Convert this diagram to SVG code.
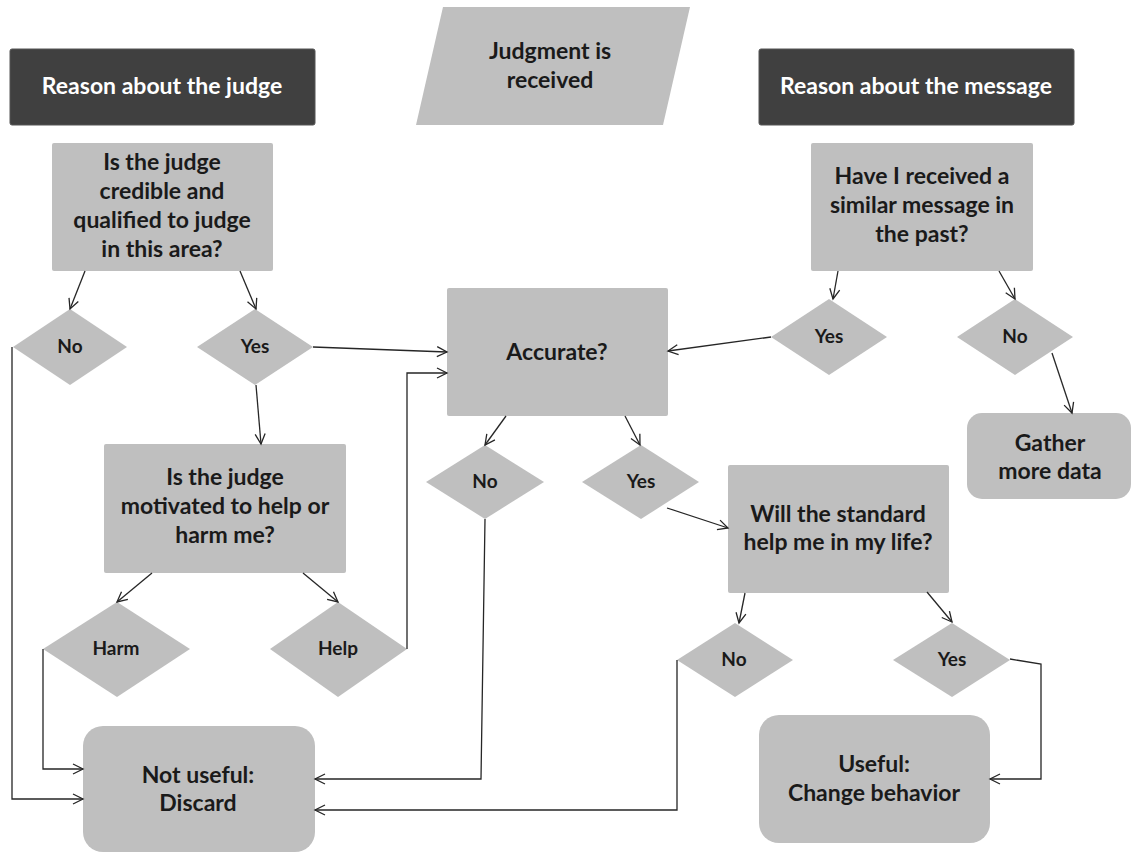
<svg xmlns="http://www.w3.org/2000/svg" width="1131" height="853" viewBox="0 0 1131 853">
<defs>
<style>
.hdr{fill:#404040;stroke:#555;stroke-width:1}
.box{fill:#bfbfbf}
.ht{font-family:Lato,"Open Sans","Liberation Sans",sans-serif;font-weight:bold;font-size:23px;fill:#fff;text-anchor:middle}
.t{font-family:Lato,"Open Sans","Liberation Sans",sans-serif;font-weight:bold;font-size:23px;fill:#1a1a1a;text-anchor:middle}
.s{font-family:Lato,"Open Sans","Liberation Sans",sans-serif;font-weight:bold;font-size:19px;fill:#1a1a1a;text-anchor:middle}
.c{fill:none;stroke:#262626;stroke-width:1.3;marker-end:url(#arr)}
</style>
<marker id="arr" markerUnits="userSpaceOnUse" markerWidth="14" markerHeight="14" refX="11" refY="6" orient="auto" viewBox="0 0 14 12">
<path d="M1,1 L11,6 L1,11" fill="none" stroke="#262626" stroke-width="1.3"/>
</marker>
</defs>
<rect width="1131" height="853" fill="#fff"/>

<g id="hdr-judge"><rect class="hdr" x="10" y="49" width="305" height="76" rx="2"/><text class="ht" x="162" y="94">Reason about the judge</text></g>
<g id="received"><polygon class="box" points="443,7 690,7 663,125 416,125"/><text class="t" x="550" y="59">Judgment is</text><text class="t" x="550" y="88">received</text></g>
<g id="hdr-message"><rect class="hdr" x="759" y="49" width="315" height="76" rx="2"/><text class="ht" x="916" y="94">Reason about the message</text></g>

<g id="q-credible"><rect class="box" x="52" y="143" width="221" height="128" rx="2"/>
<text class="t" x="162" y="170">Is the judge</text><text class="t" x="162" y="199">credible and</text><text class="t" x="162" y="228">qualified to judge</text><text class="t" x="162" y="257">in this area?</text></g>

<g id="q-similar"><rect class="box" x="811" y="143" width="222" height="128" rx="2"/>
<text class="t" x="922" y="184">Have I received a</text><text class="t" x="922" y="213">similar message in</text><text class="t" x="922" y="242">the past?</text></g>

<g id="d-no1"><polygon class="box" points="13,347 70,309 127,347 70,385"/><text class="s" x="70" y="353">No</text></g>
<g id="d-yes1"><polygon class="box" points="197,347 255,309 313,347 255,385"/><text class="s" x="255" y="353">Yes</text></g>
<g id="d-yes2"><polygon class="box" points="771,337 829,299 887,337 829,375"/><text class="s" x="829" y="343">Yes</text></g>
<g id="d-no2"><polygon class="box" points="957,337 1015,299 1073,337 1015,375"/><text class="s" x="1015" y="343">No</text></g>

<g id="q-accurate"><rect class="box" x="447" y="288" width="221" height="128" rx="2"/><text class="t" x="557" y="360">Accurate?</text></g>

<g id="gather"><rect class="box" x="967" y="413" width="164" height="86" rx="15"/><text class="t" x="1050" y="451">Gather</text><text class="t" x="1050" y="479">more data</text></g>

<g id="q-motivated"><rect class="box" x="104" y="444" width="242" height="129" rx="2"/>
<text class="t" x="225" y="485">Is the judge</text><text class="t" x="225" y="514">motivated to help or</text><text class="t" x="225" y="543">harm me?</text></g>

<g id="d-no3"><polygon class="box" points="426,482 485,445 544,482 485,519"/><text class="s" x="485" y="488">No</text></g>
<g id="d-yes3"><polygon class="box" points="582,482 641,445 699,482 641,519"/><text class="s" x="641" y="488">Yes</text></g>

<g id="q-standard"><rect class="box" x="728" y="465" width="221" height="128" rx="2"/>
<text class="t" x="838" y="522">Will the standard</text><text class="t" x="838" y="550">help me in my life?</text></g>

<g id="d-harm"><polygon class="box" points="43,649 117,602 190,649 117,697"/><text class="s" x="116" y="655">Harm</text></g>
<g id="d-help"><polygon class="box" points="270,649 338,602 407,649 338,697"/><text class="s" x="338" y="655">Help</text></g>
<g id="d-no4"><polygon class="box" points="677,660 735,623 793,660 735,697"/><text class="s" x="734" y="666">No</text></g>
<g id="d-yes4"><polygon class="box" points="893,660 952,623 1010,660 952,697"/><text class="s" x="952" y="666">Yes</text></g>

<g id="not-useful"><rect class="box" x="83" y="726" width="232" height="126" rx="20"/><text class="t" x="198" y="783">Not useful:</text><text class="t" x="198" y="811">Discard</text></g>
<g id="useful"><rect class="box" x="759" y="715" width="231" height="128" rx="20"/><text class="t" x="874" y="772">Useful:</text><text class="t" x="874" y="801">Change behavior</text></g>

<g id="connectors">
<path class="c" d="M85,271 L70,309"/>
<path class="c" d="M240,271 L256,309"/>
<path class="c" d="M12,347 L12,799 L83,799"/>
<path class="c" d="M313,347 L447,352"/>
<path class="c" d="M256,385 L261,444"/>
<path class="c" d="M152,573 L117,602"/>
<path class="c" d="M303,573 L338,602"/>
<path class="c" d="M43,649 L43,769 L83,769"/>
<path class="c" d="M407,649 L407,373 L447,373"/>
<path class="c" d="M506,416 L485,445"/>
<path class="c" d="M625,416 L640,445"/>
<path class="c" d="M485,519 L481,779 L315,779"/>
<path class="c" d="M667,508 L728,528"/>
<path class="c" d="M838,271 L833,299"/>
<path class="c" d="M999,271 L1015,299"/>
<path class="c" d="M771,337 L668,351"/>
<path class="c" d="M1052,353 L1072,413"/>
<path class="c" d="M745,593 L739,623"/>
<path class="c" d="M927,592 L952,622"/>
<path class="c" d="M677,660 L677,810 L315,810"/>
<path class="c" d="M1010,659 L1041,664 L1041,779 L990,779"/>
</g>
</svg>
